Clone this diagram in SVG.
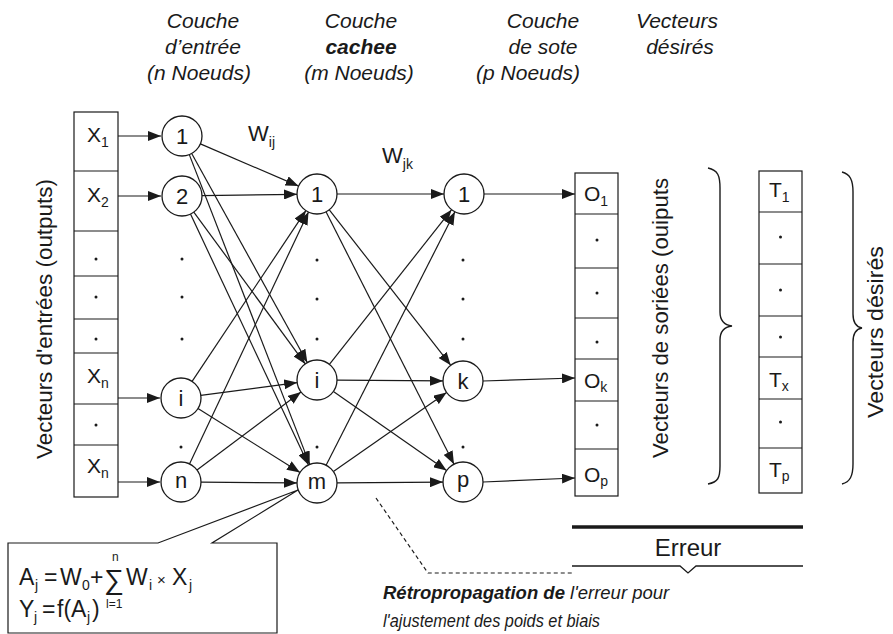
<svg xmlns="http://www.w3.org/2000/svg" width="893" height="634" viewBox="0 0 893 634">
  <defs>
    <marker id="arrow" markerWidth="14" markerHeight="10" refX="13" refY="5" orient="auto" markerUnits="userSpaceOnUse">
      <path d="M0,0 L13,5 L0,10 Z" fill="#1a1a1a"/>
    </marker>
  </defs>
  <style>
    text{font-family:"Liberation Sans",Arial,sans-serif;fill:#1a1a1a}
    .hd{font-size:21px;font-style:italic;text-anchor:middle}
    .node circle{fill:#fff;stroke:#1a1a1a;stroke-width:1.3}
    .node text{font-size:22px;text-anchor:middle}
    .cell{fill:#fff;stroke:#1a1a1a;stroke-width:1.2}
    .sep{stroke:#1a1a1a;stroke-width:1.2}
    .lbl{font-size:21px}
    .sub{font-size:14px}
    .edge{stroke:#1a1a1a;stroke-width:1.2;fill:none;marker-end:url(#arrow)}
    .dot{fill:#1a1a1a}
    .vert{font-size:22px;text-anchor:middle}
    .brace{fill:none;stroke:#1a1a1a;stroke-width:1.4}
    .fx{font-size:23px}
    .fs{font-size:14px}
    .cap{font-size:18.5px;font-style:italic}
  </style>
  <rect width="893" height="634" fill="#fff"/>

  <!-- column headings -->
  <g id="headings">
    <text class="hd" x="203" y="28">Couche</text>
    <text class="hd" x="203" y="54">d’entrée</text>
    <text class="hd" x="199" y="80">(n Noeuds)</text>
    <text class="hd" x="361" y="28">Couche</text>
    <text class="hd" x="361" y="54" font-weight="bold">cachee</text>
    <text class="hd" x="359" y="80">(m Noeuds)</text>
    <text class="hd" x="543" y="28">Couche</text>
    <text class="hd" x="543" y="54">de sote</text>
    <text class="hd" x="528" y="80">(p Noeuds)</text>
    <text class="hd" x="677" y="28">Vecteurs</text>
    <text class="hd" x="680" y="54">désirés</text>
  </g>

  <!-- weight labels -->
  <text x="248" y="141" font-size="22">W<tspan class="sub" dy="6">ij</tspan></text>
  <text x="382" y="163" font-size="22">W<tspan class="sub" dy="6">jk</tspan></text>

  <!-- input vector -->
  <g id="input-vector">
    <rect class="cell" x="74" y="112" width="44" height="385"/>
    <path class="sep" d="M74,171H118M74,231H118M74,276H118M74,319H118M74,353H118M74,404H118M74,445H118"/>
    <text class="lbl" x="87" y="142">X<tspan class="sub" dy="5">1</tspan></text>
    <text class="lbl" x="87" y="202">X<tspan class="sub" dy="5">2</tspan></text>
    <text class="lbl" x="87" y="383">X<tspan class="sub" dy="5">n</tspan></text>
    <text class="lbl" x="87" y="473">X<tspan class="sub" dy="5">n</tspan></text>
    <circle class="dot" cx="96" cy="259" r="1.5"/>
    <circle class="dot" cx="96" cy="297" r="1.5"/>
    <circle class="dot" cx="96" cy="339" r="1.5"/>
    <circle class="dot" cx="96" cy="425" r="1.5"/>
    <text class="vert" transform="translate(52,319) rotate(-90)" textLength="280" lengthAdjust="spacingAndGlyphs">Vecteurs d'entrées (outputs)</text>
  </g>

  <!-- connectors -->
  <g id="connectors">
    <!-- vector to input layer -->
    <line class="edge" x1="118" y1="136" x2="161" y2="136"/>
    <line class="edge" x1="118" y1="196" x2="161" y2="196"/>
    <line class="edge" x1="118" y1="398" x2="160" y2="398"/>
    <line class="edge" x1="118" y1="482" x2="160" y2="482"/>
    <!-- input layer to hidden layer -->
    <line class="edge" x1="200.4" y1="143.9" x2="298.6" y2="186.1"/>
    <line class="edge" x1="191.7" y1="153.5" x2="307.3" y2="362.5"/>
    <line class="edge" x1="189.3" y1="154.6" x2="309.7" y2="464.4"/>
    <line class="edge" x1="202" y1="195.7" x2="297" y2="194.3"/>
    <line class="edge" x1="193.8" y1="212.1" x2="305.2" y2="363.9"/>
    <line class="edge" x1="190.5" y1="214.1" x2="308.5" y2="464.9"/>
    <line class="edge" x1="192.1" y1="381.4" x2="305.9" y2="210.6"/>
    <line class="edge" x1="200.8" y1="395.4" x2="297.2" y2="382.6"/>
    <line class="edge" x1="198" y1="408.6" x2="300" y2="472.4"/>
    <line class="edge" x1="189.5" y1="463.9" x2="308.5" y2="211.9"/>
    <line class="edge" x1="197" y1="470" x2="301" y2="392"/>
    <line class="edge" x1="201" y1="482.1" x2="297" y2="482.9"/>
    <!-- hidden layer to output layer -->
    <line class="edge" x1="337" y1="194" x2="444" y2="194"/>
    <line class="edge" x1="329.3" y1="209.8" x2="450.7" y2="365.2"/>
    <line class="edge" x1="326" y1="211.8" x2="454" y2="464.2"/>
    <line class="edge" x1="329.4" y1="364.3" x2="451.6" y2="209.7"/>
    <line class="edge" x1="337" y1="380.1" x2="443" y2="380.9"/>
    <line class="edge" x1="333.4" y1="391.5" x2="446.6" y2="470.5"/>
    <line class="edge" x1="326.1" y1="465.2" x2="454.9" y2="211.8"/>
    <line class="edge" x1="333.4" y1="471.5" x2="446.6" y2="392.5"/>
    <line class="edge" x1="337" y1="482.9" x2="443" y2="482.1"/>
    <!-- output layer to output vector -->
    <line class="edge" x1="484" y1="194" x2="575" y2="194"/>
    <line class="edge" x1="483" y1="381" x2="575" y2="378"/>
    <line class="edge" x1="483" y1="482" x2="575" y2="478"/>
    <!-- back-propagation path -->
    <path d="M376,498 L428,573 H572" fill="none" stroke="#1a1a1a" stroke-width="1.2" stroke-dasharray="4,3"/>
  </g>

  <!-- input layer -->
  <g id="in-1" class="node"><circle cx="182" cy="136" r="20"/><text x="182" y="144">1</text></g>
  <g id="in-2" class="node"><circle cx="182" cy="196" r="20"/><text x="182" y="204">2</text></g>
  <g id="in-i" class="node"><circle cx="181" cy="398" r="20"/><text x="181" y="406">i</text></g>
  <g id="in-n" class="node"><circle cx="181" cy="482" r="20"/><text x="181" y="488">n</text></g>
  <g id="in-dots">
    <circle class="dot" cx="182" cy="259" r="1.5"/>
    <circle class="dot" cx="182" cy="297" r="1.5"/>
    <circle class="dot" cx="182" cy="339" r="1.5"/>
    <circle class="dot" cx="181" cy="447" r="1.5"/>
  </g>

  <!-- hidden layer -->
  <g id="hid-1" class="node"><circle cx="317" cy="194" r="20"/><text x="317" y="202">1</text></g>
  <g id="hid-i" class="node"><circle cx="317" cy="380" r="20"/><text x="317" y="388">i</text></g>
  <g id="hid-m" class="node"><circle cx="317" cy="483" r="20"/><text x="317" y="489">m</text></g>
  <g id="hid-dots">
    <circle class="dot" cx="317" cy="260" r="1.5"/>
    <circle class="dot" cx="317" cy="299" r="1.5"/>
    <circle class="dot" cx="317" cy="339" r="1.5"/>
    <circle class="dot" cx="317" cy="447" r="1.5"/>
  </g>

  <!-- output layer -->
  <g id="out-1" class="node"><circle cx="464" cy="194" r="20"/><text x="464" y="202">1</text></g>
  <g id="out-k" class="node"><circle cx="463" cy="381" r="20"/><text x="463" y="389">k</text></g>
  <g id="out-p" class="node"><circle cx="463" cy="482" r="20"/><text x="463" y="487">p</text></g>
  <g id="out-dots">
    <circle class="dot" cx="463" cy="260" r="1.5"/>
    <circle class="dot" cx="463" cy="299" r="1.5"/>
    <circle class="dot" cx="463" cy="339" r="1.5"/>
    <circle class="dot" cx="463" cy="447" r="1.5"/>
  </g>

  <!-- output vector -->
  <g id="output-vector">
    <rect class="cell" x="575" y="173" width="43" height="323"/>
    <path class="sep" d="M575,214H618M575,268H618M575,318H618M575,359H618M575,401H618M575,449H618"/>
    <text class="lbl" x="584" y="201">O<tspan class="sub" dy="5">1</tspan></text>
    <text class="lbl" x="584" y="388">O<tspan class="sub" dy="4">k</tspan></text>
    <text class="lbl" x="584" y="482">O<tspan class="sub" dy="4">p</tspan></text>
    <circle class="dot" cx="597" cy="240" r="1.5"/>
    <circle class="dot" cx="597" cy="293" r="1.5"/>
    <circle class="dot" cx="597" cy="342" r="1.5"/>
    <circle class="dot" cx="597" cy="425" r="1.5"/>
    <text class="vert" transform="translate(668,318) rotate(-90)" textLength="280" lengthAdjust="spacingAndGlyphs">Vecteurs de soriées (ouiputs</text>
    <path class="brace" d="M708,168 C718,170 720,176 720,188 L720,312 C720,320 724,325 732,326 C724,327 720,332 720,340 L720,466 C720,478 718,482 708,484"/>
  </g>

  <!-- desired vector -->
  <g id="target-vector">
    <rect class="cell" x="759" y="171" width="43" height="322"/>
    <path class="sep" d="M759,212H802M759,264H802M759,316H802M759,357H802M759,399H802M759,448H802"/>
    <text class="lbl" x="769" y="197">T<tspan class="sub" dy="5">1</tspan></text>
    <text class="lbl" x="769" y="387">T<tspan class="sub" dy="4">x</tspan></text>
    <text class="lbl" x="769" y="477">T<tspan class="sub" dy="4">p</tspan></text>
    <circle class="dot" cx="780.5" cy="237" r="1.5"/>
    <circle class="dot" cx="780.5" cy="290" r="1.5"/>
    <circle class="dot" cx="780.5" cy="337" r="1.5"/>
    <circle class="dot" cx="780.5" cy="422" r="1.5"/>
    <path class="brace" d="M842,172 C850,174 853,180 853,192 L853,314 C853,322 856,327 862,328 C856,329 853,334 853,342 L853,464 C853,476 850,482 842,484"/>
    <text class="vert" transform="translate(883,332) rotate(-90)" textLength="172" lengthAdjust="spacingAndGlyphs">Vecteurs désirés</text>
  </g>

  <!-- error -->
  <g id="error">
    <line x1="572" y1="527" x2="803" y2="527" stroke="#1a1a1a" stroke-width="3.5"/>
    <text x="688" y="556" font-size="24" text-anchor="middle">Erreur</text>
    <path d="M572,566 H680 L688,573 L696,566 H803" fill="none" stroke="#1a1a1a" stroke-width="1.3"/>
  </g>

  <!-- neuron formula callout -->
  <g id="formula">
    <path d="M8,543 H158 L298,490 L212,543 H277 V633 H8 Z" fill="#fff" stroke="#1a1a1a" stroke-width="1.2"/>
    <text class="fx" x="19" y="585">A</text>
    <text class="fs" x="35" y="590">j</text>
    <text class="fx" x="44" y="585">=</text>
    <text class="fx" x="60" y="585">W</text>
    <text class="fs" x="82" y="590">0</text>
    <text class="fx" x="90" y="585">+</text>
    <text x="104" y="589" font-size="28">∑</text>
    <text x="112" y="561" font-size="12">n</text>
    <text x="106" y="608" font-size="12">l=1</text>
    <text class="fx" x="126" y="585">W</text>
    <text class="fs" x="149" y="590">i</text>
    <text x="157" y="585" font-size="15">×</text>
    <text class="fx" x="172" y="585">X</text>
    <text class="fs" x="189" y="590">j</text>
    <text class="fx" x="19" y="617">Y</text>
    <text class="fs" x="34" y="622">j</text>
    <text class="fx" x="42" y="617">=</text>
    <text class="fx" x="57" y="617">f(A</text>
    <text class="fs" x="87" y="622">j</text>
    <text class="fx" x="92" y="617">)</text>
  </g>

  <!-- back-propagation caption -->
  <g id="caption">
    <text class="cap" x="383" y="599"><tspan font-weight="bold">Rétropropagation de</tspan> l'erreur pour</text>
    <text class="cap" x="383" y="627" textLength="217" lengthAdjust="spacingAndGlyphs">l'ajustement des poids et biais</text>
  </g>
</svg>
